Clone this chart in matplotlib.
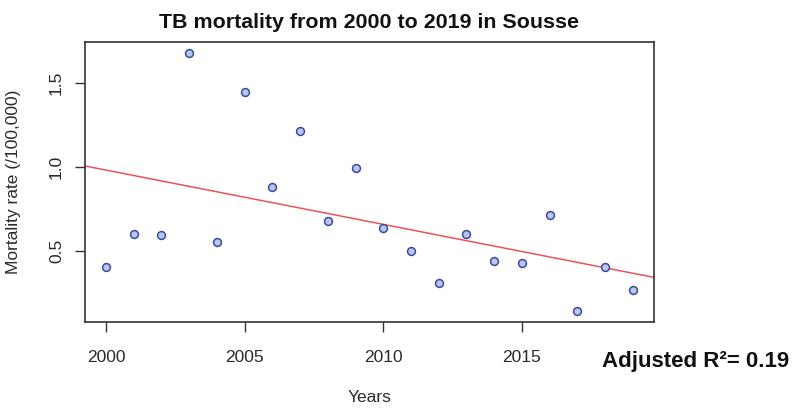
import numpy as np
import matplotlib.pyplot as plt

plt.rcParams['font.family'] = ['Liberation Sans', 'DejaVu Sans']

years = np.arange(2000, 2020)
mortality = [0.407, 0.599, 0.593, 1.678, 0.553, 1.443, 0.881, 1.211, 0.680, 0.994,
             0.638, 0.500, 0.308, 0.599, 0.441, 0.427, 0.714, 0.144, 0.407, 0.268]
x_ticks = [2000, 2005, 2010, 2015]
y_ticks = [0.5, 1.0, 1.5]
r2_text = "Adjusted R²= 0.19"

fig = plt.figure(figsize=(8, 4.17), dpi=100)
ax = fig.add_axes([0.106, 0.228, 0.7115, 0.671])

# linear fit like abline(lm(...))
slope, intercept = np.polyfit(years, mortality, 1)
xl = (1999.24, 2019.76)
ax.plot(xl, [slope * v + intercept for v in xl], c="#e8545a", lw=1.1, zorder=2)

ax.scatter(years, mortality, s=32, facecolor="#b8c6f2", edgecolor="#3a4c98",
           linewidths=1.1, zorder=3)

ax.set_xlim(*xl)
ax.set_ylim(0.078, 1.742)
ax.set_xticks(x_ticks)
ax.set_yticks(y_ticks)
ax.set_yticklabels([str(v) for v in y_ticks], rotation=90, va="center")
ax.tick_params(length=7, width=1, color="#333333", labelcolor="#2a2a2a",
               labelsize=12.5)
ax.tick_params(axis="x", pad=13)
ax.tick_params(axis="y", pad=8)
for s in ax.spines.values():
    s.set_color("#333333")
    s.set_linewidth(1.2)

ax.set_xlabel("Years", fontsize=12.5, color="#2a2a2a", labelpad=18)
ax.set_ylabel("Mortality rate (/100,000)", fontsize=12.5, color="#2a2a2a", labelpad=20)
ax.set_title("TB mortality from 2000 to 2019 in Sousse", fontsize=15.4,
             fontweight="bold", color="#111111", pad=10)

fig.text(0.753, 0.132, r2_text, fontsize=16, fontweight="bold", color="#111111",
         ha="left", va="center")

fig.savefig("out.png", dpi=100)
